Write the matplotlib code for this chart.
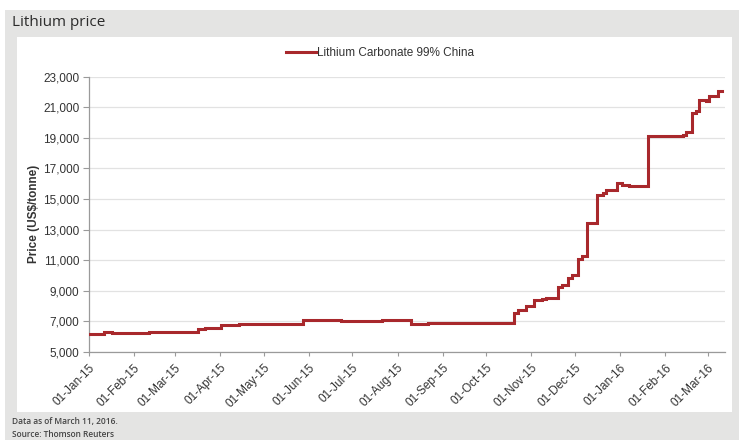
import matplotlib
matplotlib.use("Agg")
import matplotlib.pyplot as plt
import matplotlib.dates as mdates
import matplotlib.patches as mpatches
import pandas as pd

# ---- data ----
price_dates = [
    "2015-01-01", "2015-01-11", "2015-01-17", "2015-02-11", "2015-03-17",
    "2015-03-22", "2015-04-02", "2015-04-14", "2015-05-28", "2015-06-23",
    "2015-07-21", "2015-08-10", "2015-08-22", "2015-09-05", "2015-10-20",
    "2015-10-23", "2015-10-28", "2015-11-03", "2015-11-08", "2015-11-11",
    "2015-11-19", "2015-11-22", "2015-11-26", "2015-11-29", "2015-12-03",
    "2015-12-06", "2015-12-09", "2015-12-16", "2015-12-20", "2015-12-22",
    "2015-12-30", "2016-01-02", "2016-01-07", "2016-01-20", "2016-02-13",
    "2016-02-15", "2016-02-19", "2016-02-22", "2016-02-24", "2016-02-29",
    "2016-03-02", "2016-03-08", "2016-03-11",
]
price_values = [
    6150, 6290, 6250, 6320, 6500,
    6560, 6740, 6850, 7100, 7000,
    7060, 6800, 6880, 6900, 7550,
    7770, 7980, 8380, 8460, 8530,
    9230, 9400, 9840, 10050, 11100,
    11250, 13430, 15280, 15390, 15610,
    16050, 15940, 15870, 19140, 19200,
    19360, 20620, 20730, 21490, 21380,
    21710, 22040, 22040,
]
series_label = "Lithium Carbonate 99% China"
y_ticks = list(range(5000, 23001, 2000))
month_ticks = pd.date_range("2015-01-01", "2016-03-01", freq="MS")

TEXT = "#333333"
AXIS = "#9a9a9a"
LINE = "#a8282c"

fig = plt.figure(figsize=(7.39, 4.4), dpi=100)
fig.patch.set_facecolor("white")

# grey panel + white card (behind the axes)
fig.patches.append(mpatches.Rectangle((5 / 739, 0), 1, 1 - 10 / 440,
                                      transform=fig.transFigure,
                                      facecolor="#e4e4e3", edgecolor="none", zorder=-2))
fig.patches.append(mpatches.Rectangle((17 / 739, 1 - 412 / 440), (732 - 17) / 739, (412 - 37) / 440,
                                      transform=fig.transFigure,
                                      facecolor="white", edgecolor="none", zorder=-1))

fig.text(12 / 739, 1 - 23 / 440, "Lithium price", family="Open Sans",
         fontsize=11, color="#2b2b2b", va="center", ha="left")
fig.text(12 / 739, 1 - 421 / 440, "Data as of March 11, 2016.", family="Open Sans",
         fontsize=6, fontweight="semibold", color="#444444", va="center", ha="left")
fig.text(12 / 739, 1 - 434 / 440, "Source: Thomson Reuters", family="Open Sans",
         fontsize=6, fontweight="semibold", color="#444444", va="center", ha="left")

ax = fig.add_axes([89 / 739, 1 - 352 / 440, (725 - 89) / 739, (352 - 76.5) / 440])
ax.set_facecolor("none")

x = pd.to_datetime(price_dates)
ax.plot(x, price_values, drawstyle="steps-post", color=LINE, lw=2.2,
        solid_joinstyle="miter", label=series_label, zorder=3)

ax.set_ylim(5000, 23000)
ax.set_xlim(pd.Timestamp("2015-01-01"), pd.Timestamp("2016-03-13"))

ax.set_yticks(y_ticks)
ax.set_yticklabels([f"{v:,}" for v in y_ticks])
ax.set_xticks(month_ticks)
ax.xaxis.set_major_formatter(mdates.DateFormatter("%d-%b-%y"))

for lbl in ax.get_xticklabels() + ax.get_yticklabels():
    lbl.set_family("Liberation Sans")
    lbl.set_fontsize(8.5)
    lbl.set_color(TEXT)
plt.setp(ax.get_xticklabels(), rotation=45, ha="right", rotation_mode="anchor")

ax.grid(axis="y", color="#e2e2e2", lw=0.9)
ax.set_axisbelow(True)
for side in ("top", "right"):
    ax.spines[side].set_visible(False)
for side in ("left", "bottom"):
    ax.spines[side].set_color(AXIS)
    ax.spines[side].set_linewidth(0.9)
ax.tick_params(axis="y", length=4, color=AXIS, pad=3)
ax.tick_params(axis="x", length=3, color=AXIS, pad=4)

ax.set_ylabel("Price (US$/tonne)", family="Liberation Sans", fontsize=8.5,
              fontweight="bold", color=TEXT, labelpad=2)

ax.legend(loc="center", bbox_to_anchor=(380 / 739, 1 - 53 / 440),
          bbox_transform=fig.transFigure, frameon=False,
          prop={"family": "Liberation Sans", "size": 8.5},
          handlelength=2.6, handletextpad=0.1, labelcolor=TEXT)

fig.savefig("out.png", dpi=100)
